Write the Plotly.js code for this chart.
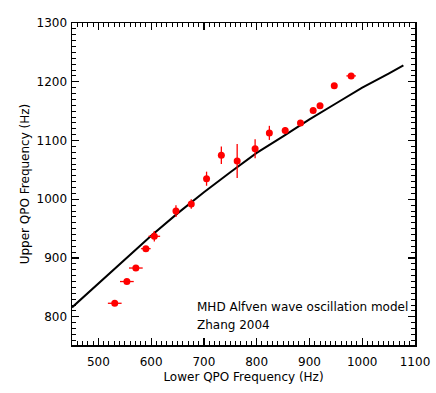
<!DOCTYPE html>
<html><head><meta charset="utf-8">
<script src="https://cdn.plot.ly/plotly-3.0.1.min.js"></script>
<style>html,body{margin:0;padding:0;background:#fff}#chart{width:436px;height:393px}</style>
</head><body><div id="chart"></div>
<script>
// Observed QPO pairs
const lowerQPO = [531, 554, 571, 590, 606, 647, 676, 705, 733, 763, 797, 824, 854, 883, 907, 920, 947, 979];
const upperQPO = [823, 860, 883, 916, 937, 980, 992, 1035, 1075, 1065, 1086, 1113, 1117, 1130, 1151, 1159, 1193, 1210];
const lowerErr = [13, 13, 13, 9, 11, 4, 3, 3, 3, 3, 3, 3, 3, 3, 3, 3, 3, 9];
const upperErr = [2, 2, 2, 4, 9, 10, 8, 12, 15, 29, 16, 12, 6, 5, 2, 4, 2, 2];
// MHD Alfven wave oscillation model curve
const modelLower = [450, 500, 550, 600, 650, 700, 750, 800, 850, 900, 950, 1000, 1050, 1078];
const modelUpper = [816, 857, 898, 938, 976, 1012, 1046, 1079, 1107, 1136, 1163, 1190, 1214, 1228];
const xTicks = [500, 600, 700, 800, 900, 1000, 1100];
const yTicks = [800, 900, 1000, 1100, 1200, 1300];

const font = {family: 'DejaVu Sans, sans-serif', size: 12, color: '#000'};
const axisCommon = {
  showgrid: false, zeroline: false, showline: true, linecolor: '#000', linewidth: 1.5,
  mirror: 'allticks', ticks: 'inside', ticklen: 7, tickwidth: 1.2, tickcolor: '#000',
  tickfont: font, tickmode: 'array',
  minor: {dtick: 10, ticks: 'inside', ticklen: 4, tickwidth: 1, tickcolor: '#000'}
};

const traces = [
  {x: modelLower, y: modelUpper, mode: 'lines', line: {color: '#000', width: 2}, hoverinfo: 'skip'},
  {x: lowerQPO, y: upperQPO, mode: 'markers',
   marker: {color: '#ff0000', size: 7},
   error_x: {type: 'data', array: lowerErr, color: '#ff0000', thickness: 1.3, width: 0},
   error_y: {type: 'data', array: upperErr, color: '#ff0000', thickness: 1.3, width: 0}}
];

const layout = {
  width: 436, height: 393, showlegend: false,
  paper_bgcolor: '#fff', plot_bgcolor: '#fff', font: font,
  margin: {l: 72, r: 21, t: 23, b: 48},
  xaxis: Object.assign({}, axisCommon, {range: [450, 1100], tickvals: xTicks,
    ticktext: xTicks.map(String), ticklabelstandoff: 5,
    title: {text: 'Lower QPO Frequency (Hz)', font: font, standoff: 4}}),
  yaxis: Object.assign({}, axisCommon, {range: [752, 1300], tickvals: yTicks,
    ticktext: yTicks.map(String), ticklabelstandoff: 1,
    title: {text: 'Upper QPO Frequency (Hz)', font: font, standoff: 4}}),
  annotations: [
    {text: 'MHD Alfven wave oscillation model', xref: 'paper', yref: 'paper', x: 0.36, y: 0.117,
     xanchor: 'left', yanchor: 'middle', showarrow: false, font: font},
    {text: 'Zhang 2004', xref: 'paper', yref: 'paper', x: 0.36, y: 0.062,
     xanchor: 'left', yanchor: 'middle', showarrow: false, font: font}
  ]
};
Plotly.newPlot('chart', traces, layout, {displayModeBar: false, staticPlot: true});
</script></body></html>
